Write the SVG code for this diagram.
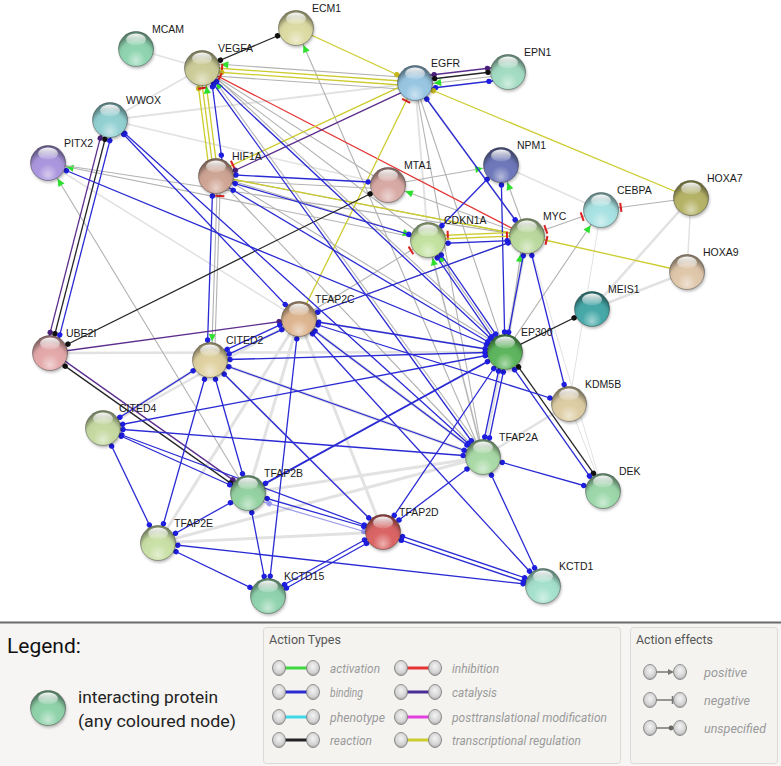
<svg xmlns="http://www.w3.org/2000/svg" width="781" height="766" viewBox="0 0 781 766">
<style>
.lg{stroke:#e2e2e2;stroke-width:3;fill:none}
.gr{stroke:#b2b2b2;stroke-width:1.1}
.bl{stroke:#2a2ad4;stroke-width:1.3;marker-start:url(#dB);marker-end:url(#dB)}
.ye{stroke:#cccc2e;stroke-width:1.3}
.rd{stroke:#e43333;stroke-width:1.3}
.pu{stroke:#5b2d8c;stroke-width:1.3}
.bk{stroke:#262626;stroke-width:1.3}
.sh{fill:#000;opacity:.28;filter:url(#blur)}
.ov{fill:url(#shade);stroke:rgba(0,0,0,.38);stroke-width:.8}
.hl{fill:url(#hlg)}
.nl{font-family:"Liberation Sans",Arial,sans-serif;font-size:10.5px;fill:#1a1a1a}
.lt{font-family:Roboto,"Liberation Sans",Arial,sans-serif;font-size:13px;fill:#9a9a9a;font-style:italic}
.lh{font-family:Roboto,"Liberation Sans",Arial,sans-serif;font-size:12.5px;fill:#555}
.gs{fill:url(#gsph);stroke:#7a7a7a;stroke-width:.8}
</style>
<defs>
<filter id="blur" x="-50%" y="-50%" width="200%" height="200%"><feGaussianBlur stdDeviation="1.4"/></filter>
<radialGradient id="shade" cx="0.5" cy="0.72" r="0.62" fx="0.5" fy="0.85">
<stop offset="0" stop-color="#fff" stop-opacity=".5"/>
<stop offset=".45" stop-color="#fff" stop-opacity="0"/>
<stop offset=".78" stop-color="#000" stop-opacity=".04"/>
<stop offset="1" stop-color="#000" stop-opacity=".38"/>
</radialGradient>
<linearGradient id="hlg" x1="0" y1="0" x2="0" y2="1">
<stop offset="0" stop-color="#fff" stop-opacity=".95"/>
<stop offset="1" stop-color="#fff" stop-opacity=".12"/>
</linearGradient>
<radialGradient id="gsph" cx="0.5" cy="0.4" r="0.6">
<stop offset="0" stop-color="#f4f4f4"/>
<stop offset=".7" stop-color="#d2d2d2"/>
<stop offset="1" stop-color="#a8a8a8"/>
</radialGradient>
<marker id="dB" markerUnits="userSpaceOnUse" orient="auto-start-reverse" overflow="visible" markerWidth="1" markerHeight="1"><circle cx="-20" cy="0" r="2.7" fill="#1e1ee0"/></marker>
<marker id="dK" markerUnits="userSpaceOnUse" orient="auto-start-reverse" overflow="visible" markerWidth="1" markerHeight="1"><circle cx="-20" cy="0" r="2.7" fill="#111"/></marker>
<marker id="dP" markerUnits="userSpaceOnUse" orient="auto-start-reverse" overflow="visible" markerWidth="1" markerHeight="1"><circle cx="-20" cy="0" r="2.7" fill="#4a1f7a"/></marker>
<marker id="dY" markerUnits="userSpaceOnUse" orient="auto-start-reverse" overflow="visible" markerWidth="1" markerHeight="1"><circle cx="-20" cy="0" r="2.7" fill="#c8b820"/></marker>
<marker id="aG" markerUnits="userSpaceOnUse" orient="auto-start-reverse" overflow="visible" markerWidth="1" markerHeight="1"><path d="M-18.5,0 L-26,-3.6 L-26,3.6 Z" fill="#2ee02e"/></marker>
<marker id="bR" markerUnits="userSpaceOnUse" orient="auto-start-reverse" overflow="visible" markerWidth="1" markerHeight="1"><line x1="-20" y1="-4.5" x2="-20" y2="4.5" stroke="#e02020" stroke-width="2"/></marker>
</defs>
<rect x="0" y="0" width="781" height="766" fill="#fff"/>
<g id="connectors">
<g id="light">
<line class="lg" style="stroke-width:1.5" x1="136" y1="49" x2="202" y2="68"/>
<line class="lg" style="stroke-width:1.5" x1="110" y1="120" x2="202" y2="68"/>
<line class="lg" style="stroke-width:2" x1="110" y1="120" x2="415" y2="83"/>
<line class="lg" style="stroke-width:1.5" x1="110" y1="120" x2="388" y2="185"/>
<line class="lg" style="stroke-width:1.5" x1="48" y1="163" x2="299" y2="319"/>
<line class="lg" style="stroke-width:2.5" x1="50" y1="353" x2="505" y2="352"/>
<line class="lg" x1="210" y1="360" x2="103" y2="428"/>
<line class="lg" style="stroke-width:2.5" x1="299" y1="319" x2="103" y2="428"/>
<line class="lg" x1="299" y1="319" x2="248" y2="493"/>
<line class="lg" x1="299" y1="319" x2="158" y2="543"/>
<line class="lg" x1="299" y1="319" x2="383" y2="532"/>
<line class="lg" x1="299" y1="319" x2="483" y2="457"/>
<line class="lg" x1="483" y1="457" x2="248" y2="493"/>
<line class="lg" x1="483" y1="457" x2="158" y2="543"/>
<line class="lg" x1="158" y1="543" x2="383" y2="532"/>
<line class="lg" x1="210" y1="360" x2="483" y2="457"/>
<line class="lg" style="stroke-width:2" x1="210" y1="360" x2="383" y2="532"/>
<line class="lg" style="stroke-width:2.5" x1="569" y1="404" x2="483" y2="457"/>
<line class="lg" style="stroke-width:2.5" x1="691" y1="198" x2="592" y2="309"/>
<line class="lg" style="stroke-width:2.5" x1="687" y1="272" x2="592" y2="309"/>
<line class="lg" style="stroke-width:1.5" x1="691" y1="198" x2="687" y2="272"/>
<line class="lg" style="stroke-width:1.5" x1="501" y1="165" x2="601" y2="210"/>
<line class="lg" style="stroke-width:1" x1="601" y1="210" x2="569" y2="404"/>
<line class="lg" style="stroke-width:1" x1="603" y1="491" x2="569" y2="404"/>
<line class="lg" style="stroke-width:1" x1="603" y1="491" x2="527" y2="236"/>
<line class="lg" style="stroke-width:2" x1="415" y1="83" x2="527" y2="236"/>
<line class="lg" style="stroke-width:2" x1="415" y1="83" x2="428" y2="240"/>
<line class="lg" style="stroke-width:3.5" x1="505" y1="352" x2="527" y2="236"/>
<line class="lg" style="stroke-width:2" x1="428" y1="240" x2="483" y2="457"/>
<line class="lg" style="stroke-width:2" x1="505" y1="352" x2="299" y2="319"/>
<line class="lg" style="stroke-width:2" x1="527" y1="236" x2="483" y2="457"/>
</g>
<g id="grey">
<line class="gr" x1="202.35" y1="63" x2="415.35" y2="78" marker-start="url(#aG)"/>
<line class="gr" x1="201.5" y1="75" x2="414.5" y2="90"/>
<line class="gr" x1="296" y1="28" x2="483" y2="457" marker-start="url(#aG)"/>
<line class="gr" x1="202" y1="68" x2="428" y2="240"/>
<line class="gr" x1="202" y1="68" x2="388" y2="185"/>
<line class="gr" x1="204" y1="66" x2="507" y2="350"/>
<line class="gr" x1="205" y1="67" x2="486" y2="456" marker-start="url(#aG)"/>
<line class="gr" x1="48" y1="163" x2="428" y2="240" marker-start="url(#aG)"/>
<line class="gr" x1="48" y1="163" x2="527" y2="236"/>
<line class="gr" x1="48" y1="163" x2="248" y2="493" marker-start="url(#aG)"/>
<line class="gr" x1="217.5" y1="176" x2="211.5" y2="360" marker-end="url(#aG)"/>
<line class="gr" x1="220.5" y1="176" x2="214.5" y2="360" marker-start="url(#bR)"/>
<line class="gr" x1="216" y1="180" x2="388" y2="189"/>
<line class="gr" x1="216" y1="176" x2="527" y2="236"/>
<line class="gr" x1="218" y1="174" x2="507" y2="350"/>
<line class="gr" x1="216" y1="176" x2="428" y2="240" marker-end="url(#aG)"/>
<line class="gr" x1="216" y1="176" x2="483" y2="457"/>
<line class="gr" x1="388" y1="185" x2="501" y2="165" marker-end="url(#aG)"/>
<line class="gr" x1="527" y1="236" x2="388" y2="185" marker-end="url(#aG)"/>
<line class="gr" x1="527" y1="236" x2="501" y2="165" marker-end="url(#aG)"/>
<line class="gr" x1="507" y1="352" x2="523" y2="236" marker-end="url(#aG)"/>
<line class="gr" x1="505" y1="352" x2="601" y2="210" marker-end="url(#aG)"/>
<line class="gr" x1="691" y1="198" x2="601" y2="210" marker-end="url(#bR)"/>
<line class="gr" x1="527" y1="236" x2="601" y2="210" marker-start="url(#bR)" marker-end="url(#bR)"/>
<line class="gr" x1="483" y1="457" x2="428" y2="240" marker-end="url(#aG)"/>
<line class="gr" x1="505" y1="352" x2="428" y2="240" marker-end="url(#aG)"/>
<line class="gr" x1="299" y1="319" x2="428" y2="240" marker-end="url(#bR)"/>
<line class="gr" x1="415" y1="83" x2="505" y2="352"/>
<line class="gr" x1="415" y1="83" x2="483" y2="457"/>
<line class="gr" x1="299" y1="319" x2="527" y2="236"/>
<line class="gr" x1="415.3" y1="85.5" x2="508.3" y2="74.5" marker-start="url(#aG)"/>
</g>
<g id="colored">
<line class="bk" x1="202" y1="68" x2="296" y2="28" marker-start="url(#dK)" marker-end="url(#dK)"/>
<line class="ye" x1="296" y1="28" x2="415" y2="83" marker-end="url(#dY)"/>
<line class="ye" x1="202.07" y1="67" x2="415.07" y2="82" marker-start="url(#bR)"/>
<line class="ye" x1="201.8" y1="71" x2="414.8" y2="86" marker-start="url(#dY)"/>
<line class="rd" x1="202" y1="68" x2="527" y2="236" marker-start="url(#bR)"/>
<line class="pu" x1="414.3" y1="77" x2="507.3" y2="66" marker-start="url(#dP)" marker-end="url(#dP)"/>
<line class="bk" x1="414.8" y1="81" x2="507.8" y2="70" marker-start="url(#dK)" marker-end="url(#dK)"/>
<line class="bl" x1="415.8" y1="90" x2="508.8" y2="79"/>
<line class="ye" x1="413.7" y1="80.3" x2="214.7" y2="173.3" marker-end="url(#bR)"/>
<line class="pu" x1="416.3" y1="85.7" x2="217.3" y2="178.7" marker-end="url(#dP)"/>
<line class="bl" x1="415" y1="83" x2="527" y2="236"/>
<line class="ye" x1="415" y1="83" x2="691" y2="198" marker-start="url(#dY)"/>
<line class="ye" x1="415" y1="83" x2="299" y2="319" marker-start="url(#bR)"/>
<line class="ye" x1="196.05" y1="68.8" x2="210.05" y2="176.8" marker-start="url(#dY)"/>
<line class="ye" x1="200" y1="68.3" x2="214" y2="176.3" marker-start="url(#bR)"/>
<line class="ye" x1="204" y1="67.7" x2="218" y2="175.7" marker-start="url(#aG)"/>
<line class="bl" x1="209.9" y1="67" x2="223.9" y2="175"/>
<line class="bl" x1="216" y1="174" x2="388" y2="183"/>
<line class="bl" x1="216" y1="178" x2="428" y2="240"/>
<line class="bl" x1="216" y1="180" x2="505" y2="352"/>
<line class="ye" x1="216" y1="176" x2="527" y2="236"/>
<line class="bl" x1="213" y1="176" x2="207" y2="360"/>
<line class="bk" x1="388" y1="185" x2="50" y2="353" marker-start="url(#dK)" marker-end="url(#dK)"/>
<line class="pu" x1="105.2" y1="118.8" x2="45.2" y2="351.8" marker-start="url(#dP)" marker-end="url(#dP)"/>
<line class="bk" x1="110" y1="120" x2="50" y2="353" marker-start="url(#dK)" marker-end="url(#dK)"/>
<line class="bl" x1="114.8" y1="121.3" x2="54.8" y2="354.3"/>
<line class="bl" x1="110" y1="120" x2="299" y2="319"/>
<line class="bl" x1="110" y1="120" x2="483" y2="457"/>
<line class="bl" x1="48" y1="163" x2="505" y2="352"/>
<line class="pu" x1="50" y1="353" x2="299" y2="319" marker-end="url(#dP)"/>
<line class="pu" x1="51.2" y1="351.4" x2="249.2" y2="491.4" marker-end="url(#dP)"/>
<line class="bk" x1="48.8" y1="354.6" x2="246.8" y2="494.6" marker-start="url(#dK)" marker-end="url(#dK)"/>
<line class="bl" x1="501" y1="165" x2="428" y2="240"/>
<line class="bl" x1="501" y1="165" x2="505" y2="352"/>
<line class="ye" x1="427.8" y1="236" x2="526.8" y2="232" marker-start="url(#bR)"/>
<line class="ye" x1="428" y1="239.5" x2="527" y2="235.5" marker-end="url(#bR)"/>
<line class="bl" x1="428.2" y1="244" x2="527.2" y2="240"/>
<line class="bl" x1="430" y1="238.6" x2="507" y2="350.6"/>
<line class="bl" x1="426" y1="241.4" x2="503" y2="353.4"/>
<line class="bl" x1="527" y1="236" x2="505" y2="352"/>
<line class="bl" x1="527" y1="236" x2="569" y2="404"/>
<line class="ye" x1="527" y1="236" x2="687" y2="272" marker-start="url(#bR)"/>
<line class="bk" x1="505" y1="352" x2="592" y2="309" marker-end="url(#dK)"/>
<line class="bk" x1="507" y1="350.6" x2="605" y2="489.6" marker-start="url(#dK)" marker-end="url(#dK)"/>
<line class="bl" x1="503" y1="353.4" x2="601" y2="492.4"/>
<line class="bl" x1="507.4" y1="352.5" x2="485.4" y2="457.5"/>
<line class="bl" x1="502.6" y1="351.5" x2="480.6" y2="456.5"/>
<line class="bl" x1="505" y1="352" x2="299" y2="319"/>
<line class="bl" x1="505" y1="352" x2="210" y2="360"/>
<line class="bl" x1="505" y1="352" x2="103" y2="428"/>
<line class="bl" style="stroke-width:1.9" x1="505" y1="352" x2="248" y2="493"/>
<line class="bl" x1="505" y1="352" x2="383" y2="532"/>
<line class="bl" x1="299" y1="319" x2="569" y2="404"/>
<line class="bl" x1="299" y1="319" x2="483" y2="457"/>
<line class="bl" x1="299" y1="319" x2="268" y2="596"/>
<line class="bl" x1="299" y1="319" x2="543" y2="586"/>
<line class="bl" x1="299" y1="319" x2="527" y2="236"/>
<line class="bl" x1="211" y1="362.3" x2="300" y2="321.3"/>
<line class="bl" x1="209" y1="357.7" x2="298" y2="316.7"/>
<line class="bl" x1="210" y1="360" x2="483" y2="457"/>
<line class="bl" x1="210" y1="360" x2="383" y2="532"/>
<line class="bl" x1="210" y1="360" x2="248" y2="493"/>
<line class="bl" x1="210" y1="360" x2="158" y2="543"/>
<line class="bl" x1="210" y1="360" x2="103" y2="428"/>
<line class="bl" x1="103" y1="428" x2="483" y2="457"/>
<line class="bl" x1="103" y1="428" x2="383" y2="532"/>
<line class="bl" x1="103" y1="428" x2="248" y2="493"/>
<line class="bl" x1="103" y1="428" x2="158" y2="543"/>
<line class="bl" x1="248" y1="493" x2="158" y2="543"/>
<line class="bl" x1="248" y1="493" x2="268" y2="596"/>
<line class="bl" x1="248" y1="493" x2="383" y2="532"/>
<line class="bl" style="opacity:.45" x1="250" y1="498" x2="383" y2="537"/>
<line class="bl" x1="158" y1="543" x2="268" y2="596"/>
<line class="bl" x1="158" y1="543" x2="543" y2="586"/>
<line class="bl" x1="268.97" y1="597.75" x2="383.97" y2="533.75"/>
<line class="bl" x1="267.03" y1="594.25" x2="382.03" y2="530.25"/>
<line class="bl" x1="382.4" y1="533.9" x2="542.4" y2="587.9"/>
<line class="bl" x1="383.6" y1="530.1" x2="543.6" y2="584.1"/>
<line class="bl" x1="483" y1="457" x2="543" y2="586"/>
<line class="bl" x1="483" y1="457" x2="603" y2="491"/>
<line class="bl" x1="483" y1="457" x2="383" y2="532"/>
<line class="bl" x1="202" y1="68" x2="483" y2="457"/>
<line class="bl" x1="202" y1="68" x2="505" y2="352"/>
</g>
</g>
<g id="nodes">
<g id="ECM1" transform="translate(296,28)"><circle class="sh" cx="1" cy="2" r="17.5"/><circle r="17.5" fill="#dcdba3"/><circle class="ov" r="17.5"/><ellipse class="hl" cy="-9.5" rx="10" ry="6"/><text class="nl" x="16" y="-16">ECM1</text></g>
<g id="MCAM" transform="translate(136,49)"><circle class="sh" cx="1" cy="2" r="17.5"/><circle r="17.5" fill="#8fd4b0"/><circle class="ov" r="17.5"/><ellipse class="hl" cy="-9.5" rx="10" ry="6"/><text class="nl" x="16" y="-16">MCAM</text></g>
<g id="VEGFA" transform="translate(202,68)"><circle class="sh" cx="1" cy="2" r="17.5"/><circle r="17.5" fill="#cccc98"/><circle class="ov" r="17.5"/><ellipse class="hl" cy="-9.5" rx="10" ry="6"/><text class="nl" x="16" y="-16">VEGFA</text></g>
<g id="EGFR" transform="translate(415,83)"><circle class="sh" cx="1" cy="2" r="17.5"/><circle r="17.5" fill="#98c6e2"/><circle class="ov" r="17.5"/><ellipse class="hl" cy="-9.5" rx="10" ry="6"/><text class="nl" x="16" y="-16">EGFR</text></g>
<g id="EPN1" transform="translate(508,72)"><circle class="sh" cx="1" cy="2" r="17.5"/><circle r="17.5" fill="#a3dcc2"/><circle class="ov" r="17.5"/><ellipse class="hl" cy="-9.5" rx="10" ry="6"/><text class="nl" x="16" y="-16">EPN1</text></g>
<g id="WWOX" transform="translate(110,120)"><circle class="sh" cx="1" cy="2" r="17.5"/><circle r="17.5" fill="#92d0d2"/><circle class="ov" r="17.5"/><ellipse class="hl" cy="-9.5" rx="10" ry="6"/><text class="nl" x="16" y="-16">WWOX</text></g>
<g id="PITX2" transform="translate(48,163)"><circle class="sh" cx="1" cy="2" r="17.5"/><circle r="17.5" fill="#aa96de"/><circle class="ov" r="17.5"/><ellipse class="hl" cy="-9.5" rx="10" ry="6"/><text class="nl" x="16" y="-16">PITX2</text></g>
<g id="HIF1A" transform="translate(216,176)"><circle class="sh" cx="1" cy="2" r="17.5"/><circle r="17.5" fill="#cfa594"/><circle class="ov" r="17.5"/><ellipse class="hl" cy="-9.5" rx="10" ry="6"/><text class="nl" x="16" y="-16">HIF1A</text></g>
<g id="MTA1" transform="translate(388,185)"><circle class="sh" cx="1" cy="2" r="17.5"/><circle r="17.5" fill="#d8aaa5"/><circle class="ov" r="17.5"/><ellipse class="hl" cy="-9.5" rx="10" ry="6"/><text class="nl" x="16" y="-16">MTA1</text></g>
<g id="NPM1" transform="translate(501,165)"><circle class="sh" cx="1" cy="2" r="17.5"/><circle r="17.5" fill="#6d77ba"/><circle class="ov" r="17.5"/><ellipse class="hl" cy="-9.5" rx="10" ry="6"/><text class="nl" x="16" y="-16">NPM1</text></g>
<g id="CEBPA" transform="translate(601,210)"><circle class="sh" cx="1" cy="2" r="17.5"/><circle r="17.5" fill="#a8e2e2"/><circle class="ov" r="17.5"/><ellipse class="hl" cy="-9.5" rx="10" ry="6"/><text class="nl" x="16" y="-16">CEBPA</text></g>
<g id="HOXA7" transform="translate(691,198)"><circle class="sh" cx="1" cy="2" r="17.5"/><circle r="17.5" fill="#b5b366"/><circle class="ov" r="17.5"/><ellipse class="hl" cy="-9.5" rx="10" ry="6"/><text class="nl" x="16" y="-16">HOXA7</text></g>
<g id="MYC" transform="translate(527,236)"><circle class="sh" cx="1" cy="2" r="17.5"/><circle r="17.5" fill="#bbd99e"/><circle class="ov" r="17.5"/><ellipse class="hl" cy="-9.5" rx="10" ry="6"/><text class="nl" x="16" y="-16">MYC</text></g>
<g id="CDKN1A" transform="translate(428,240)"><circle class="sh" cx="1" cy="2" r="17.5"/><circle r="17.5" fill="#c3e2a0"/><circle class="ov" r="17.5"/><ellipse class="hl" cy="-9.5" rx="10" ry="6"/><text class="nl" x="16" y="-16">CDKN1A</text></g>
<g id="HOXA9" transform="translate(687,272)"><circle class="sh" cx="1" cy="2" r="17.5"/><circle r="17.5" fill="#dfc7aa"/><circle class="ov" r="17.5"/><ellipse class="hl" cy="-9.5" rx="10" ry="6"/><text class="nl" x="16" y="-16">HOXA9</text></g>
<g id="MEIS1" transform="translate(592,309)"><circle class="sh" cx="1" cy="2" r="17.5"/><circle r="17.5" fill="#46a8a8"/><circle class="ov" r="17.5"/><ellipse class="hl" cy="-9.5" rx="10" ry="6"/><text class="nl" x="16" y="-16">MEIS1</text></g>
<g id="TFAP2C" transform="translate(299,319)"><circle class="sh" cx="1" cy="2" r="17.5"/><circle r="17.5" fill="#ddb590"/><circle class="ov" r="17.5"/><ellipse class="hl" cy="-9.5" rx="10" ry="6"/><text class="nl" x="16" y="-16">TFAP2C</text></g>
<g id="UBE2I" transform="translate(50,353)"><circle class="sh" cx="1" cy="2" r="17.5"/><circle r="17.5" fill="#e4a9aa"/><circle class="ov" r="17.5"/><ellipse class="hl" cy="-9.5" rx="10" ry="6"/><text class="nl" x="16" y="-16">UBE2I</text></g>
<g id="CITED2" transform="translate(210,360)"><circle class="sh" cx="1" cy="2" r="17.5"/><circle r="17.5" fill="#dfd1a0"/><circle class="ov" r="17.5"/><ellipse class="hl" cy="-9.5" rx="10" ry="6"/><text class="nl" x="16" y="-16">CITED2</text></g>
<g id="EP300" transform="translate(505,352)"><circle class="sh" cx="1" cy="2" r="17.5"/><circle r="17.5" fill="#5db55d"/><circle class="ov" r="17.5"/><ellipse class="hl" cy="-9.5" rx="10" ry="6"/><text class="nl" x="16" y="-16">EP300</text></g>
<g id="KDM5B" transform="translate(569,404)"><circle class="sh" cx="1" cy="2" r="17.5"/><circle r="17.5" fill="#ddcda4"/><circle class="ov" r="17.5"/><ellipse class="hl" cy="-9.5" rx="10" ry="6"/><text class="nl" x="16" y="-16">KDM5B</text></g>
<g id="CITED4" transform="translate(103,428)"><circle class="sh" cx="1" cy="2" r="17.5"/><circle r="17.5" fill="#c5d9a1"/><circle class="ov" r="17.5"/><ellipse class="hl" cy="-9.5" rx="10" ry="6"/><text class="nl" x="16" y="-16">CITED4</text></g>
<g id="TFAP2A" transform="translate(483,457)"><circle class="sh" cx="1" cy="2" r="17.5"/><circle r="17.5" fill="#a9daa6"/><circle class="ov" r="17.5"/><ellipse class="hl" cy="-9.5" rx="10" ry="6"/><text class="nl" x="16" y="-16">TFAP2A</text></g>
<g id="TFAP2B" transform="translate(248,493)"><circle class="sh" cx="1" cy="2" r="17.5"/><circle r="17.5" fill="#94d2a2"/><circle class="ov" r="17.5"/><ellipse class="hl" cy="-9.5" rx="10" ry="6"/><text class="nl" x="16" y="-16">TFAP2B</text></g>
<g id="DEK" transform="translate(603,491)"><circle class="sh" cx="1" cy="2" r="17.5"/><circle r="17.5" fill="#9cd8aa"/><circle class="ov" r="17.5"/><ellipse class="hl" cy="-9.5" rx="10" ry="6"/><text class="nl" x="16" y="-16">DEK</text></g>
<g id="TFAP2E" transform="translate(158,543)"><circle class="sh" cx="1" cy="2" r="17.5"/><circle r="17.5" fill="#c9e0a6"/><circle class="ov" r="17.5"/><ellipse class="hl" cy="-9.5" rx="10" ry="6"/><text class="nl" x="16" y="-16">TFAP2E</text></g>
<g id="TFAP2D" transform="translate(383,532)"><circle class="sh" cx="1" cy="2" r="17.5"/><circle r="17.5" fill="#da6464"/><circle class="ov" r="17.5"/><ellipse class="hl" cy="-9.5" rx="10" ry="6"/><text class="nl" x="16" y="-16">TFAP2D</text></g>
<g id="KCTD15" transform="translate(268,596)"><circle class="sh" cx="1" cy="2" r="17.5"/><circle r="17.5" fill="#90d3ae"/><circle class="ov" r="17.5"/><ellipse class="hl" cy="-9.5" rx="10" ry="6"/><text class="nl" x="16" y="-16">KCTD15</text></g>
<g id="KCTD1" transform="translate(543,586)"><circle class="sh" cx="1" cy="2" r="17.5"/><circle r="17.5" fill="#a5e1cd"/><circle class="ov" r="17.5"/><ellipse class="hl" cy="-9.5" rx="10" ry="6"/><text class="nl" x="16" y="-16">KCTD1</text></g>
</g>
<g id="legend">
<rect x="0" y="623" width="781" height="143" fill="#f6f5f3"/>
<line x1="0" y1="622.5" x2="781" y2="622.5" stroke="#6a6a6a" stroke-width="2"/>
<text x="7" y="653" font-family="Roboto,'Liberation Sans',Arial,sans-serif" font-size="21" fill="#111">Legend:</text>
<g transform="translate(48,708)"><circle class="sh" cx="1" cy="2" r="17.5"/><circle r="17.5" fill="#8fd2aa"/><circle class="ov" r="17.5"/><ellipse class="hl" cy="-9.5" rx="10" ry="6"/></g>
<text x="78" y="703" font-family="Roboto,'Liberation Sans',Arial,sans-serif" font-size="17" fill="#222" textLength="140" lengthAdjust="spacingAndGlyphs">interacting protein</text>
<text x="78" y="727" font-family="Roboto,'Liberation Sans',Arial,sans-serif" font-size="17" fill="#222" textLength="158" lengthAdjust="spacingAndGlyphs">(any coloured node)</text>
<rect x="263.5" y="627.5" width="357" height="136" rx="3" fill="#f4f3f0" stroke="#dcdad6"/>
<text class="lh" x="269" y="644" textLength="72" lengthAdjust="spacingAndGlyphs">Action Types</text>
<g id="lt-activation"><line x1="285" y1="668" x2="307" y2="668" stroke="#3ed83e" stroke-width="3"/><ellipse class="gs" cx="279" cy="668" rx="6.5" ry="7.5"/><ellipse class="gs" cx="313" cy="668" rx="6.5" ry="7.5"/><text class="lt" x="330" y="672.5" textLength="50" lengthAdjust="spacingAndGlyphs">activation</text></g>
<g id="lt-binding"><line x1="285" y1="692" x2="307" y2="692" stroke="#2b2bd0" stroke-width="3"/><ellipse class="gs" cx="279" cy="692" rx="6.5" ry="7.5"/><ellipse class="gs" cx="313" cy="692" rx="6.5" ry="7.5"/><text class="lt" x="330" y="696.5" textLength="33" lengthAdjust="spacingAndGlyphs">binding</text></g>
<g id="lt-phenotype"><line x1="285" y1="717" x2="307" y2="717" stroke="#3fd8ea" stroke-width="3"/><ellipse class="gs" cx="279" cy="717" rx="6.5" ry="7.5"/><ellipse class="gs" cx="313" cy="717" rx="6.5" ry="7.5"/><text class="lt" x="330" y="721.5" textLength="55" lengthAdjust="spacingAndGlyphs">phenotype</text></g>
<g id="lt-reaction"><line x1="285" y1="740" x2="307" y2="740" stroke="#222" stroke-width="3"/><ellipse class="gs" cx="279" cy="740" rx="6.5" ry="7.5"/><ellipse class="gs" cx="313" cy="740" rx="6.5" ry="7.5"/><text class="lt" x="330" y="744.5" textLength="42" lengthAdjust="spacingAndGlyphs">reaction</text></g>
<g id="lt-inhibition"><line x1="407" y1="668" x2="429" y2="668" stroke="#e43333" stroke-width="3"/><ellipse class="gs" cx="401" cy="668" rx="6.5" ry="7.5"/><ellipse class="gs" cx="435" cy="668" rx="6.5" ry="7.5"/><text class="lt" x="452" y="672.5" textLength="47" lengthAdjust="spacingAndGlyphs">inhibition</text></g>
<g id="lt-catalysis"><line x1="407" y1="692" x2="429" y2="692" stroke="#4a2d96" stroke-width="3"/><ellipse class="gs" cx="401" cy="692" rx="6.5" ry="7.5"/><ellipse class="gs" cx="435" cy="692" rx="6.5" ry="7.5"/><text class="lt" x="452" y="696.5" textLength="45" lengthAdjust="spacingAndGlyphs">catalysis</text></g>
<g id="lt-ptm"><line x1="407" y1="717" x2="429" y2="717" stroke="#e23fe0" stroke-width="3"/><ellipse class="gs" cx="401" cy="717" rx="6.5" ry="7.5"/><ellipse class="gs" cx="435" cy="717" rx="6.5" ry="7.5"/><text class="lt" x="452" y="721.5" textLength="155" lengthAdjust="spacingAndGlyphs">posttranslational modification</text></g>
<g id="lt-transcr"><line x1="407" y1="740" x2="429" y2="740" stroke="#cccc2e" stroke-width="3"/><ellipse class="gs" cx="401" cy="740" rx="6.5" ry="7.5"/><ellipse class="gs" cx="435" cy="740" rx="6.5" ry="7.5"/><text class="lt" x="452" y="744.5" textLength="129" lengthAdjust="spacingAndGlyphs">transcriptional regulation</text></g>
<rect x="630.5" y="627.5" width="147" height="136" rx="3" fill="#f4f3f0" stroke="#dcdad6"/>
<text class="lh" x="636" y="644" textLength="77" lengthAdjust="spacingAndGlyphs">Action effects</text>
<g id="le-positive"><line x1="656" y1="672" x2="669" y2="672" stroke="#777" stroke-width="1.5"/><path d="M674,672 L668,669 L668,675 Z" fill="#777"/><ellipse class="gs" cx="650" cy="672" rx="6.5" ry="7.5"/><ellipse class="gs" cx="680" cy="672" rx="6.5" ry="7.5"/><text class="lt" x="704" y="676.5" textLength="43" lengthAdjust="spacingAndGlyphs">positive</text></g>
<g id="le-negative"><line x1="656" y1="700" x2="673" y2="700" stroke="#777" stroke-width="1.5"/><line x1="672.5" y1="696" x2="672.5" y2="704" stroke="#777" stroke-width="1.5"/><ellipse class="gs" cx="650" cy="700" rx="6.5" ry="7.5"/><ellipse class="gs" cx="680" cy="700" rx="6.5" ry="7.5"/><text class="lt" x="704" y="704.5" textLength="46" lengthAdjust="spacingAndGlyphs">negative</text></g>
<g id="le-unspecified"><line x1="656" y1="728" x2="672" y2="728" stroke="#777" stroke-width="1.5"/><circle cx="671" cy="728" r="2.4" fill="#666"/><ellipse class="gs" cx="650" cy="728" rx="6.5" ry="7.5"/><ellipse class="gs" cx="680" cy="728" rx="6.5" ry="7.5"/><text class="lt" x="704" y="732.5" textLength="62" lengthAdjust="spacingAndGlyphs">unspecified</text></g>
</g>
</svg>
